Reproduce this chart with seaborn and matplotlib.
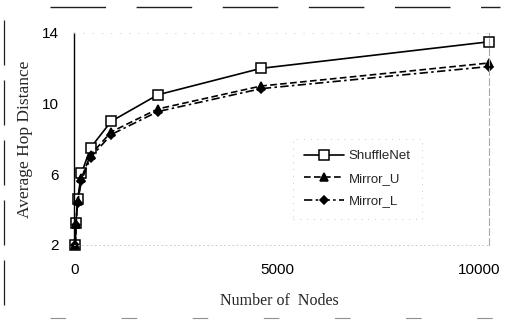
import matplotlib
matplotlib.use("Agg")
import matplotlib.pyplot as plt
from matplotlib.lines import Line2D
import pandas as pd
import seaborn as sns

# ── data ────────────────────────────────────────────────────────────────────
nodes      = [8, 24, 64, 160, 384, 896, 2048, 4608, 10240]
shufflenet = [2.0, 3.25, 4.6, 6.05, 7.5, 9.0, 10.5, 12.0, 13.5]
mirror_u   = [2.0, 3.2, 4.5, 5.8, 7.1, 8.4, 9.7, 11.0, 12.3]
mirror_l   = [2.0, 3.15, 4.4, 5.65, 6.95, 8.25, 9.55, 10.85, 12.1]

series_names = ["ShuffleNet", "Mirror_U", "Mirror_L"]
x_ticks = [0, 5000, 10000]
y_ticks = [2, 6, 10, 14]

df = pd.DataFrame({
    "nodes": nodes * 3,
    "hops": shufflenet + mirror_u + mirror_l,
    "series": [s for s in series_names for _ in nodes],
})

sns.set_theme(style="white")
plt.rcParams["font.family"] = ["Liberation Sans", "DejaVu Sans"]

fig = plt.figure(figsize=(5.15, 3.22), dpi=100)
ax = fig.add_axes([74 / 515, 1 - 245 / 322, 415 / 515, 212 / 322])

styles = {
    "ShuffleNet": dict(linestyle="-", marker="s", markerfacecolor="white",
                       markersize=6.8),
    "Mirror_U":   dict(linestyle=(0, (4, 2)), marker="^", markerfacecolor="black",
                       markersize=6),
    "Mirror_L":   dict(linestyle=(0, (5, 2, 1.5, 2)), marker="D",
                       markerfacecolor="black", markersize=4.5),
}
for name in series_names:
    sub = df[df["series"] == name]
    sns.lineplot(data=sub, x="nodes", y="hops", ax=ax, color="black",
                 linewidth=1.2, markeredgecolor="black", markeredgewidth=1.1,
                 clip_on=False, label=name, **styles[name])

ax.set_xlim(-25, 10250)
ax.set_ylim(2, 14)
ax.set_xticks(x_ticks)
ax.set_yticks(y_ticks)
ax.tick_params(axis="x", length=0, pad=13, labelsize=11, colors="black")
ax.tick_params(axis="y", length=0, pad=11, labelsize=11, colors="black")

ax.set_xlabel("Number of  Nodes", family="Liberation Serif", fontsize=11.5)
ax.set_ylabel("Average Hop Distance", family="Liberation Serif", fontsize=12.5)
ax.xaxis.set_label_coords(0.496, -0.225)
ax.yaxis.set_label_coords(-0.099, 0.5)

ax.spines["left"].set_color("black")
ax.spines["left"].set_linewidth(1.0)
ax.spines["right"].set_color("#a8a8a8")
ax.spines["right"].set_linestyle((0, (6, 3)))
ax.spines["right"].set_linewidth(0.8)
ax.spines["top"].set_color("#d8d8d8")
ax.spines["top"].set_linestyle((0, (1, 10)))
ax.spines["top"].set_linewidth(0.6)
ax.spines["bottom"].set_color("#c0c0c0")
ax.spines["bottom"].set_linestyle((0, (1, 4)))
ax.spines["bottom"].set_linewidth(0.6)

leg = ax.legend(loc="upper left", bbox_to_anchor=(293 / 515, 1 - 139 / 322),
                bbox_transform=fig.transFigure, fontsize=9.5, frameon=True,
                fancybox=False, handlelength=3.0, handletextpad=0.35,
                labelspacing=0.78, borderpad=0.85, borderaxespad=0)
frame = leg.get_frame()
frame.set_edgecolor("#b8b8b8")
frame.set_linestyle((0, (1, 6)))
frame.set_linewidth(0.7)
for h in leg.legend_handles:
    h.set_linewidth(1.2)

# scanned page border fragments
def border(xs, ys, dashes, color="#202020", lw=1.0):
    fig.add_artist(Line2D(xs, ys, transform=fig.transFigure, color=color,
                          linewidth=lw, linestyle=(0, dashes)))

border([50 / 515, 500 / 515], [1 - 7 / 322, 1 - 7 / 322], (40, 22))
border([4 / 515, 4 / 515], [1 - 20 / 322, 1 - 320 / 322], (36, 12), lw=0.9)
border([50 / 515, 500 / 515], [1 - 318 / 322, 1 - 318 / 322], (14, 50),
       color="#909090", lw=0.8)

fig.savefig("out.png", dpi=100)
